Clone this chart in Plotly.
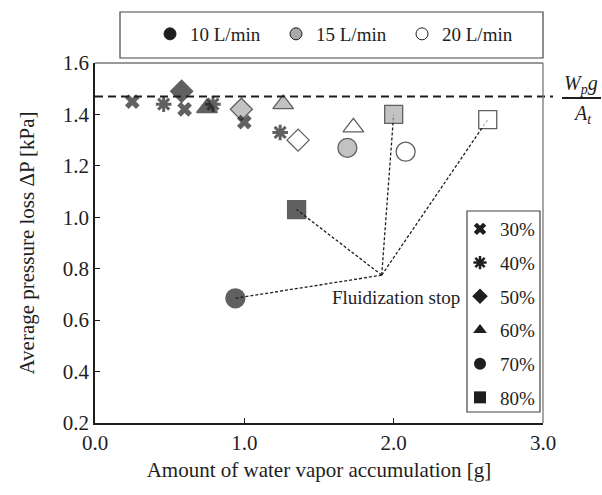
import plotly.graph_objects as go

# Relative humidity levels (one marker shape each)
humidity = ["30%", "40%", "50%", "60%", "70%", "80%"]
symbols = ["x", "asterisk-open", "diamond", "triangle-up", "circle", "square"]

# Air flow rates and their fill colours
flow_rates = ["10 L/min", "15 L/min", "20 L/min"]
flow_fill = ["#1e1e1e", "#a9a9a9", "#ffffff"]

# Water vapour accumulation [g] for 30..80 % humidity, per flow rate
acc_10 = [0.25, 0.46, 0.58, 0.75, 0.94, 1.35]
acc_15 = [0.60, 0.79, 0.98, 1.26, 1.69, 2.00]
acc_20 = [1.00, 1.24, 1.36, 1.73, 2.08, 2.63]

# Average pressure loss [kPa] for 30..80 % humidity, per flow rate
dp_10 = [1.45, 1.44, 1.49, 1.425, 0.685, 1.03]
dp_15 = [1.42, 1.44, 1.42, 1.44, 1.27, 1.40]
dp_20 = [1.37, 1.33, 1.30, 1.35, 1.255, 1.38]

# Theoretical pressure loss of the fluidized bed, W_p g / A_t [kPa]
wpg_at = 1.47

# Where the "Fluidization stop" leader lines meet
stop_hub = (1.92, 0.775)
# (flow index, humidity index) of the runs where fluidization stopped
stopped_runs = [(0, 4), (0, 5), (1, 5), (2, 5)]

accs = [acc_10, acc_15, acc_20]
dps = [dp_10, dp_15, dp_20]

FONT = "'Liberation Serif', 'Times New Roman', 'DejaVu Serif', serif"
INK = "#1e1e1e"

# Plot-area geometry in pixels (used for paper-coordinate placement)
L, R, T, B = 95, 543, 63, 423
PW, PH = R - L, B - T


def px(x):
    return (x - L) / PW


def py(y):
    return (B - y) / PH


fig = go.Figure()

# Leader lines to the runs where fluidization stopped
for fi, hi in stopped_runs:
    fig.add_trace(go.Scatter(
        x=[stop_hub[0], accs[fi][hi]], y=[stop_hub[1], dps[fi][hi]],
        mode="lines", line=dict(color=INK, width=1.3, dash="3px,2px"),
        showlegend=False, hoverinfo="skip"))

# Measured points, one trace per flow rate
for fi, name in enumerate(flow_rates):
    colors = [INK if s in ("x", "asterisk-open") else flow_fill[fi] for s in symbols]
    sizes = [13, 13, 17, 18, 19, 18]
    fig.add_trace(go.Scatter(
        x=accs[fi], y=dps[fi], mode="markers", name=name,
        marker=dict(symbol=symbols, color=colors, size=sizes,
                    line=dict(color=INK, width=[0, 3, 1.3, 1.3, 1.3, 1.3])),
        showlegend=False, cliponaxis=False))

# Legend keys: flow rate (fill colour)
for fi, name in enumerate(flow_rates):
    fig.add_trace(go.Scatter(
        x=[None], y=[None], mode="markers", name=name, legend="legend",
        marker=dict(symbol="circle", size=12, color=flow_fill[fi],
                    line=dict(color=INK, width=1))))

# Legend keys: humidity (marker shape)
for hi, name in enumerate(humidity):
    fig.add_trace(go.Scatter(
        x=[None], y=[None], mode="markers", name=name, legend="legend2",
        legendgroup=name,
        marker=dict(symbol=symbols[hi], size=12 if hi > 1 else 11, color=INK,
                    line=dict(color=INK, width=2.5 if hi == 1 else 0))))

# Theoretical pressure loss line
fig.add_shape(type="line", xref="paper", yref="y", x0=0, x1=px(553),
              y0=wpg_at, y1=wpg_at,
              line=dict(color=INK, width=2, dash="8px,5px"))

# Top and right frame edges
fig.add_shape(type="line", xref="paper", yref="paper", x0=0, x1=1, y0=1, y1=1,
              line=dict(color="#777", width=1.3))
fig.add_shape(type="line", xref="paper", yref="paper", x0=1, x1=1, y0=0, y1=1,
              line=dict(color="#777", width=1.3))

# Legend boxes
fig.add_shape(type="rect", xref="paper", yref="paper",
              x0=px(120), x1=px(543), y0=py(58), y1=py(12),
              line=dict(color="#444", width=1.2), fillcolor="rgba(0,0,0,0)")
fig.add_shape(type="rect", xref="paper", yref="paper",
              x0=px(467), x1=px(540), y0=py(412), y1=py(211),
              line=dict(color="#444", width=1.2), fillcolor="white", layer="below")

# W_p g / A_t label
fig.add_shape(type="line", xref="paper", yref="paper",
              x0=px(562), x1=px(601), y0=py(98), y1=py(98),
              line=dict(color=INK, width=2))
fig.add_annotation(xref="paper", yref="paper", x=px(562), y=py(84),
                   xanchor="left", yanchor="middle",
                   text="<i>W<sub>p</sub>g</i>", showarrow=False,
                   font=dict(family=FONT, size=20, color=INK))
fig.add_annotation(xref="paper", yref="paper", x=px(571), y=py(114),
                   xanchor="left", yanchor="middle",
                   text="<i>A<sub>t</sub></i>", showarrow=False,
                   font=dict(family=FONT, size=20, color=INK))

# Fluidization stop label
fig.add_annotation(x=1.575, y=0.69, xanchor="left", yanchor="middle",
                   text="Fluidization stop", showarrow=False,
                   font=dict(family=FONT, size=19, color=INK))

axis_common = dict(showline=True, linecolor=INK, linewidth=1.5, mirror=False,
                   ticks="inside", ticklen=5, tickcolor=INK, tickwidth=1,
                   showgrid=False, zeroline=False,
                   tickfont=dict(family=FONT, size=21, color=INK),
                   tickformat=".1f")

fig.update_layout(
    width=602, height=495,
    margin=dict(l=L, r=602 - R, t=T, b=495 - B, autoexpand=False),
    paper_bgcolor="white", plot_bgcolor="white",
    font=dict(family=FONT, color=INK),
    xaxis=dict(range=[0, 3], dtick=1, tick0=0,
               title=dict(text="Amount of water vapor accumulation [g]",
                          font=dict(family=FONT, size=21, color=INK), standoff=8),
               **axis_common),
    yaxis=dict(range=[0.2, 1.6], dtick=0.2, tick0=0.2,
               title=dict(text="Average pressure loss ΔP [kPa]",
                          font=dict(family=FONT, size=21, color=INK), standoff=22),
               **axis_common),
    legend=dict(orientation="h", x=px(150), y=py(34), xanchor="left", yanchor="middle",
                entrywidth=81, entrywidthmode="pixels",
                font=dict(family=FONT, size=19, color=INK),
                bgcolor="rgba(0,0,0,0)", borderwidth=0),
    legend2=dict(orientation="v", x=px(460), y=py(210), xanchor="left", yanchor="top",
                 tracegroupgap=6,
                 font=dict(family=FONT, size=19, color=INK),
                 bgcolor="rgba(0,0,0,0)", borderwidth=0),
)

fig.write_html("out.html")
